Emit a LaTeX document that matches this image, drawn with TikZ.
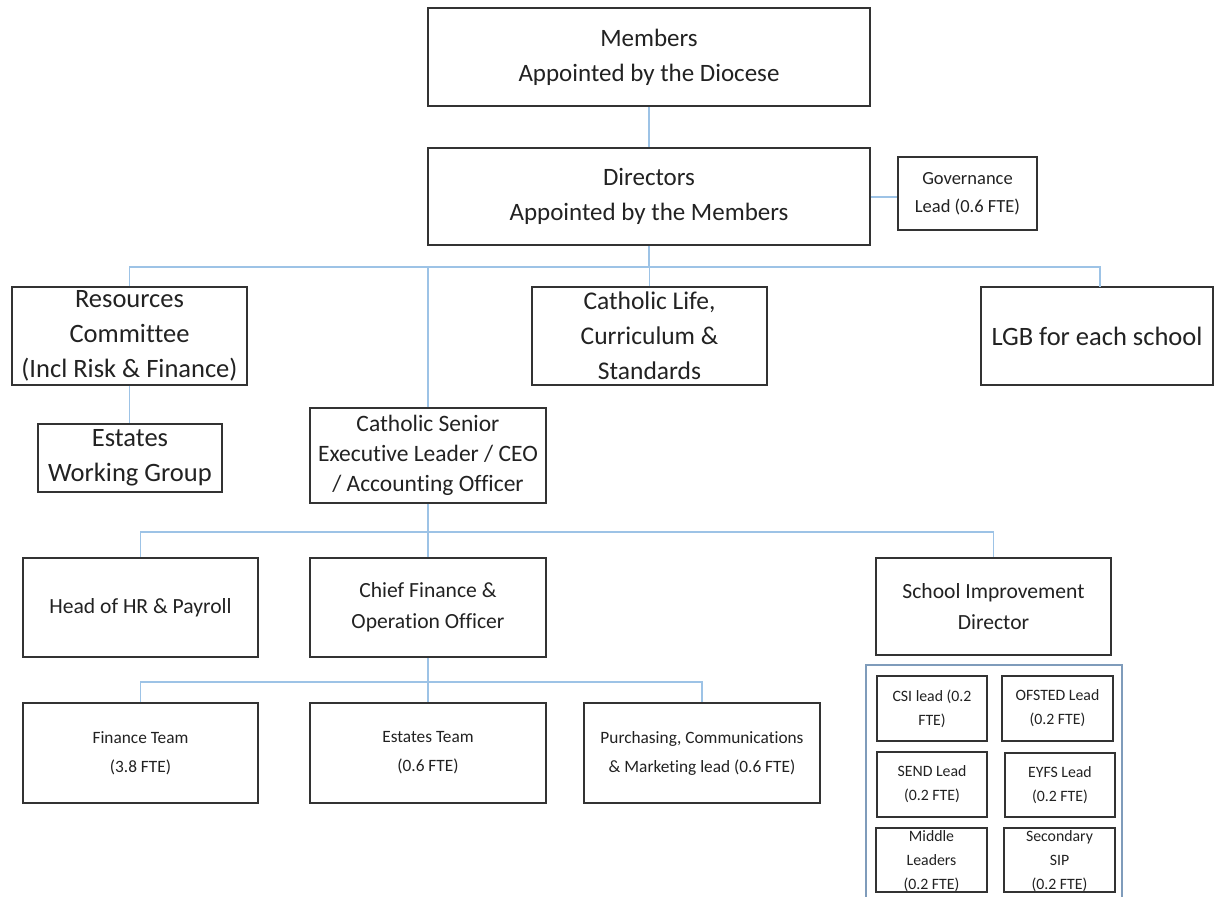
\documentclass[tikz,border=0pt]{standalone}
\usepackage{fontspec}
\setmainfont{Carlito}[Ligatures=NoCommon]
\definecolor{conncol}{HTML}{9DC3E6}
\definecolor{framecol}{HTML}{7F9CBB}
\definecolor{txt}{HTML}{222222}
\definecolor{boxline}{HTML}{333333}
\begin{document}
\begin{tikzpicture}[x=1pt,y=-1pt,
  box/.style={draw=boxline, line width=1.6pt, fill=white, align=center, inner sep=0pt, text=txt},
  conn/.style={draw=conncol, line width=1.5pt},
  fbig/.style={font=\fontsize{25}{35}\selectfont},
  fcl/.style={font=\fontsize{25.5}{35}\selectfont},
  fbigw/.style={font=\fontsize{26.5}{35}\selectfont},
  fcsel/.style={font=\fontsize{23.5}{30}\selectfont},
  fmid/.style={font=\fontsize{21.6}{31}\selectfont},
  fsm/.style={font=\fontsize{17.3}{29}\selectfont},
  fgov/.style={font=\fontsize{18.5}{28}\selectfont},
  ftiny/.style={font=\fontsize{15.8}{24}\selectfont}]
\useasboundingbox (0,0) rectangle (1216,897);
\fill[white] (0,0) rectangle (1216,897);

% container frame
\draw[framecol, line width=1.5pt] (866,900) -- (866,665) -- (1122,665) -- (1122,900);

% top
\node[box,fbig,minimum width=442,minimum height=98] (mem) at (649,57) {Members\\Appointed by the Diocese};
\node[box,fbig,minimum width=442,minimum height=97] (dir) at (649,196.5) {Directors\\Appointed by the Members};
\node[box,fgov,minimum width=139,minimum height=73] (gov) at (967.5,193.5) {Governance\\Lead (0.6 FTE)};

% second row
\node[box,fbigw,minimum width=235,minimum height=98] (res) at (129.5,336) {Resources\\Committee\\(Incl Risk \& Finance)};
\node[box,fcl,minimum width=235,minimum height=98] (cl) at (649.5,336) {Catholic Life,\\Curriculum \&\\Standards};
\node[box,fbigw,minimum width=232,minimum height=98] (lgb) at (1097,336) {LGB for each school};

\node[box,fbigw,minimum width=184,minimum height=68] (ewg) at (130,458) {Estates\\Working Group};
\node[box,fcsel,minimum width=236,minimum height=95] (csel) at (428,455.5) {Catholic Senior\\Executive Leader / CEO\\/ Accounting Officer};

% third row
\node[box,fmid,minimum width=235,minimum height=99] (hr) at (140.5,607.5) {Head of HR \& Payroll};
\node[box,fmid,minimum width=236,minimum height=99] (cfo) at (428,607.5) {Chief Finance \&\\Operation Officer};
\node[box,fmid,minimum width=235,minimum height=97] (sid) at (993.5,606.5) {School Improvement\\Director};

% fourth row
\node[box,fsm,minimum width=235,minimum height=100] (fin) at (140.5,753) {Finance Team\\(3.8 FTE)};
\node[box,fsm,minimum width=236,minimum height=100] (est) at (428,753) {Estates Team\\(0.6 FTE)};
\node[box,fsm,minimum width=236,minimum height=100] (pur) at (702,753) {Purchasing, Communications\\\& Marketing lead (0.6 FTE)};

% inner SIP boxes
\node[box,ftiny,minimum width=110,minimum height=65] (csi) at (932,708.5) {CSI lead (0.2\\FTE)};
\node[box,ftiny,minimum width=111,minimum height=65] (ofs) at (1057.5,708.5) {OFSTED Lead\\(0.2 FTE)};
\node[box,ftiny,minimum width=110,minimum height=65] (send) at (932,784.5) {SEND Lead\\(0.2 FTE)};
\node[box,ftiny,minimum width=110,minimum height=64] (eyfs) at (1060,785) {EYFS Lead\\(0.2 FTE)};
\node[box,minimum width=111,minimum height=64] (mid) at (931.5,860) {};
\node[box,minimum width=111,minimum height=64] (sec) at (1059.5,860) {};
\node[ftiny,align=center,text=txt,inner sep=0pt] (midt) at (931.5,861) {Middle\\Leaders\\(0.2 FTE)};
\node[ftiny,align=center,text=txt,inner sep=0pt] (sect) at (1059.5,861) {Secondary\\SIP\\(0.2 FTE)};

% connectors
\coordinate (b1) at (0,267);
\coordinate (b2) at (0,532);
\coordinate (b3) at (0,682);
\coordinate (lgbtop) at (1100,287);
\coordinate (govy) at (0,197);
\draw[conn] (mem.south) -- (dir.north);
\draw[conn] (dir.east |- govy) -- (gov.west |- govy);
\draw[conn] (dir.south) -- (dir.south |- b1);
\draw[conn] (res.north) -- (res.north |- b1) -- (lgbtop |- b1) -- (lgbtop);
\draw[conn] (cl.north) -- (cl.north |- b1);
\draw[conn] (csel.north) -- (csel.north |- b1);
\draw[conn] (res.south) -- (res.south |- ewg.north);
\draw[conn] (csel.south) -- (csel.south |- b2);
\draw[conn] (hr.north) -- (hr.north |- b2) -- (sid.north |- b2) -- (sid.north);
\draw[conn] (cfo.north) -- (cfo.north |- b2);
\draw[conn] (cfo.south) -- (cfo.south |- b3);
\draw[conn] (fin.north) -- (fin.north |- b3) -- (pur.north |- b3) -- (pur.north);
\draw[conn] (est.north) -- (est.north |- b3);
\end{tikzpicture}
\end{document}
